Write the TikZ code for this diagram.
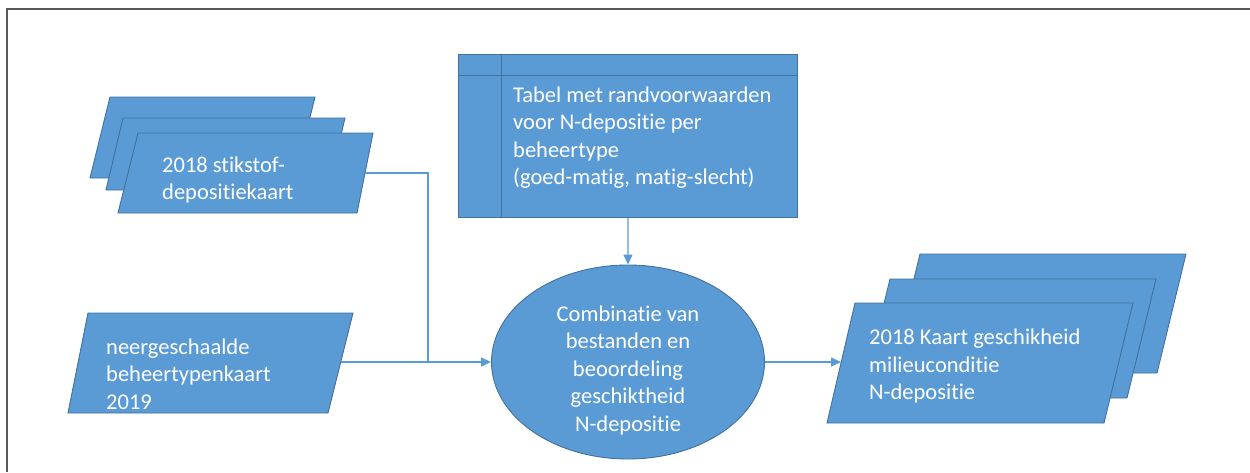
\documentclass[tikz,border=0pt]{standalone}
\usepackage{fontspec}
\setmainfont{Carlito}[Ligatures=NoCommon,RawFeature={-liga}]
\usetikzlibrary{arrows.meta,shapes.geometric}
\definecolor{boxfill}{HTML}{5B9BD5}
\definecolor{boxline}{HTML}{41719C}
\definecolor{framegray}{HTML}{595959}
\begin{document}
\begin{tikzpicture}[x=1pt,y=-1pt,
  shapebox/.style={fill=boxfill,draw=boxline,line width=0.9pt},
  txt/.style={text=white,font=\fontsize{22.5}{27.5}\selectfont,inner sep=0pt,align=left},
  flow/.style={draw=boxfill,line width=1.4pt,-{Triangle[length=10pt,width=9pt]}},
  link/.style={draw=boxfill,line width=1.4pt}]
\useasboundingbox (0,0) rectangle (1250,472);
% frame edges
\draw[framegray,line width=2pt] (6.5,472) -- (6.5,8.5) -- (1250,8.5);

% stack of nitrogen deposition maps
\path[shapebox] (110,97) -- (315,97) -- (295,178) -- (90,178) -- cycle;
\path[shapebox] (123,118) -- (345,118) -- (328,190) -- (106,190) -- cycle;
\path[shapebox] (138,133) -- (373,133) -- (357,213) -- (118,213) -- cycle;
\node[txt,anchor=west] (stik) at (162,180) {2018 stikstof-\\depositiekaart};
\coordinate (stikOut) at (365,173);

% management type map
\path[shapebox] (88,313) -- (353,313) -- (328,413) -- (68,413) -- cycle;
\node[txt,anchor=west] (beheer) at (106,374) {neergeschaalde\\beheertypenkaart\\2019};
\coordinate (beheerOut) at (340.7,362);

% table of boundary conditions
\node[shapebox,rectangle,minimum width=339pt,minimum height=163pt,inner sep=0pt,anchor=north west] (tabel) at (458,54) {};
\draw[boxline,line width=0.9pt] (458,75) -- (797,75) (501,54) -- (501,217);
\node[txt,anchor=west] (tabeltxt) at (513,137.5) {Tabel met randvoorwaarden\\voor N-depositie per\\beheertype\\(goed-matig, matig-slecht)};

% combination step
\node[shapebox,ellipse,minimum width=273pt,minimum height=194pt,inner sep=0pt] (comb) at (628,362) {};
\node[txt,align=center] (combtxt) at (628,370) {Combinatie van\\bestanden en\\beoordeling\\geschiktheid\\N-depositie};

% resulting suitability maps
\path[shapebox] (920,254) -- (1186,254) -- (1157,373) -- (891,373) -- cycle;
\path[shapebox] (890,279) -- (1156,279) -- (1127,398) -- (861,398) -- cycle;
\path[shapebox] (855,303) -- (1133,303) -- (1104,423) -- (827,423) -- cycle;
\node[txt,anchor=west] (kaart) at (869,366) {2018 Kaart geschikheid\\milieuconditie\\N-depositie};
\coordinate (kaartIn) at (841,362);

% connectors
\coordinate (join) at (428,362);
\draw[link] (stikOut) -| (join);
\draw[flow] (beheerOut) -- (comb.west);
\draw[flow] (tabel.south) -- (comb.north);
\draw[flow] (comb.east) -- (kaartIn);
\end{tikzpicture}
\end{document}
